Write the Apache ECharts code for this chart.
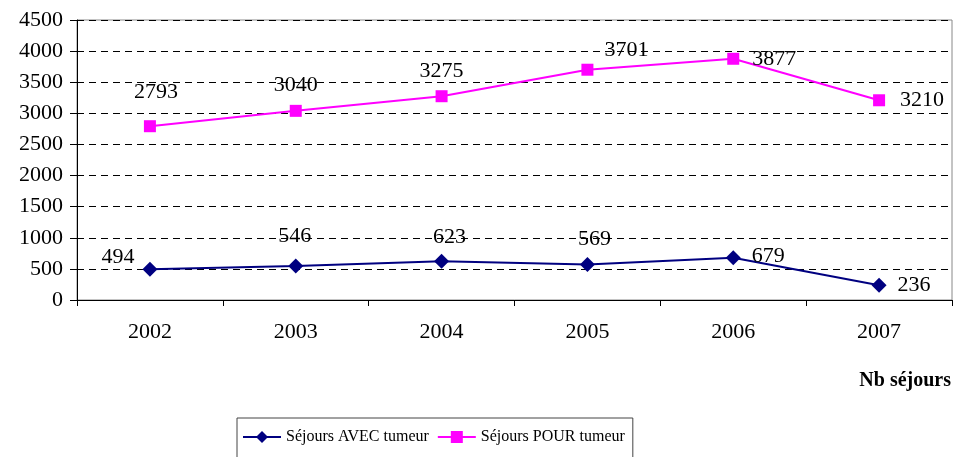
<!DOCTYPE html>
<html>
<head>
<meta charset="utf-8">
<script src="https://cdn.jsdelivr.net/npm/echarts@6/dist/echarts.min.js"></script>
<style>
  html, body { margin: 0; padding: 0; background: #fff; }
  #chart { width: 960px; height: 457px; }
</style>
</head>
<body>
<div id="chart"></div>
<script>
var years = ['2002', '2003', '2004', '2005', '2006', '2007'];
var avecTumeur = [494, 546, 623, 569, 679, 236];
var pourTumeur = [2793, 3040, 3275, 3701, 3877, 3210];

// label offsets from each marker, as in the original sheet
var avecOffsets = [[-32, -12], [-1, -30], [8, -24], [7, -25], [35, -2], [35, 0]];
var pourOffsets = [[6, -34], [0, -26], [0, -25], [39, -19], [41, 0], [43, 0]];

var serif = '"Liberation Serif", "DejaVu Serif", serif';

function withLabels(values, offsets) {
    return values.map(function (v, i) {
        return {
            value: v,
            label: {offset: offsets[i]}
        };
    });
}

var myChart = echarts.init(document.getElementById('chart'));

myChart.setOption({
    backgroundColor: '#fff',
    animation: false,
    title: {
        text: 'Nb séjours',
        right: 4,
        top: 366,
        textStyle: {
            fontFamily: serif,
            fontSize: 20,
            fontWeight: 'bold',
            color: '#000'
        }
    },
    legend: {
        left: 237,
        top: 418,
        itemWidth: 38,
        itemHeight: 15,
        itemGap: 8,
        padding: [11, 8, 13, 5],
        borderColor: '#444',
        borderWidth: 1,
        borderRadius: 0,
        textStyle: {
            fontFamily: serif,
            fontSize: 16,
            color: '#000'
        },
        data: ['Séjours AVEC tumeur', 'Séjours POUR tumeur']
    },
    grid: {
        left: 77,
        right: 8,
        top: 20,
        bottom: 157,
        show: true,
        borderColor: '#888',
        borderWidth: 1
    },
    xAxis: {
        type: 'category',
        data: years,
        boundaryGap: true,
        axisLine: {lineStyle: {color: '#000', width: 1}},
        axisTick: {show: true, length: 6, inside: false, lineStyle: {color: '#000'}},
        axisLabel: {
            fontFamily: serif,
            fontSize: 22,
            color: '#000',
            margin: 21
        },
        splitLine: {show: false}
    },
    yAxis: {
        type: 'value',
        min: 0,
        max: 4500,
        interval: 500,
        axisLine: {show: true, lineStyle: {color: '#000', width: 1}},
        axisTick: {show: true, length: 7, lineStyle: {color: '#000'}},
        axisLabel: {
            fontFamily: serif,
            fontSize: 22,
            color: '#000',
            margin: 14,
            formatter: function (v) { return String(v); }
        },
        splitLine: {
            show: true,
            lineStyle: {color: '#000', type: [7, 5], width: 1}
        }
    },
    series: [
        {
            name: 'Séjours AVEC tumeur',
            type: 'line',
            data: withLabels(avecTumeur, avecOffsets),
            symbol: 'diamond',
            symbolSize: 15,
            color: '#000080',
            lineStyle: {color: '#000080', width: 2},
            itemStyle: {color: '#000080'},
            label: {
                show: true,
                position: 'inside',
                fontFamily: serif,
                fontSize: 22,
                color: '#000'
            },
            z: 3
        },
        {
            name: 'Séjours POUR tumeur',
            type: 'line',
            data: withLabels(pourTumeur, pourOffsets),
            symbol: 'rect',
            symbolSize: 12,
            color: '#ff00ff',
            lineStyle: {color: '#ff00ff', width: 2},
            itemStyle: {color: '#ff00ff'},
            label: {
                show: true,
                position: 'inside',
                fontFamily: serif,
                fontSize: 22,
                color: '#000'
            },
            z: 3
        }
    ]
});
</script>
</body>
</html>
